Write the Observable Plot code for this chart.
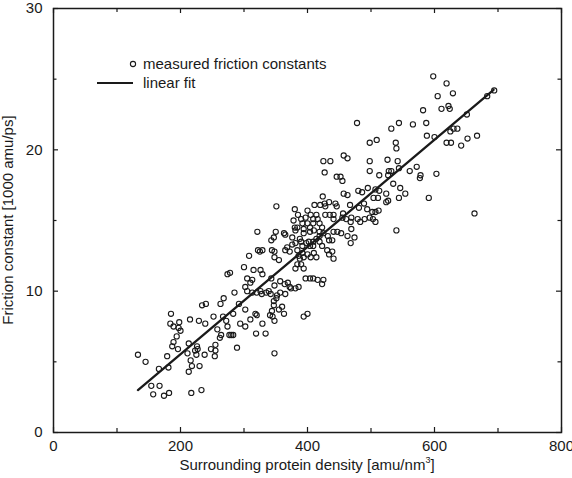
<!DOCTYPE html>
<html><head><meta charset="utf-8">
<script src="https://cdn.jsdelivr.net/npm/d3@7"></script>
<script src="https://cdn.jsdelivr.net/npm/@observablehq/plot@0.6"></script>
<style>
html,body{margin:0;padding:0;background:#fff;}
#chart{width:572px;height:478px;}
</style></head><body><div id="chart"></div>
<script>
// measured friction constants: surrounding protein density [amu/nm^3] and friction constant [1000 amu/ps]
const densities = [
133,145,154,167,157,174,182,166,179,181,185,184,189,198,197,200,194,189,187,196,
215,213,211,216,213,218,223,226,227,225,230,229,234,240,238,217,233,239,252,248,
255,255,254,258,263,264,262,268,267,274,278,272,274,277,280,283,283,285,289,292,348,
457,463,425,436,498,526,542,528,532,527,544,561,572,578,577,603,535,546,554,544,591,
524,524,527,540,321,322,329,325,308,300,315,326,329,305,313,310,302,305,313,
320,326,328,335,339,342,357,352,351,347,365,360,363,355,347,344,341,345,348,302,318,
320,310,329,302,294,319,334,394,400,
427,446,452,455,498,513,457,463,480,486,495,507,513,504,511,424,351,411,420,427,428,
434,444,446,380,400,467,481,489,494,502,507,512,498,507,503,385,390,392,397,405,409,
414,416,428,435,441,441,456,455,461,469,468,479,483,490,378,380,384,400,404,409,419,
423,350,347,363,365,381,394,394,404,410,419,425,441,447,453,463,469,474,468,343,344,
348,376,376,381,388,390,392,398,402,404,409,409,414,419,419,423,432,434,439,431,434,
439,441,365,368,372,384,386,388,392,394,400,405,410,414,348,355,384,390,394,381,397,
404,409,416,425,423,357,364,369,372,374,343,348,386,381,
478,498,509,
598,619,629,605,694,683,582,611,622,624,651,544,566,587,532,630,636,625,588,600,539,
540,619,626,642,652,667,663
];
const frictions = [
5.5,5.0,3.3,3.3,2.7,2.6,2.8,4.5,5.4,4.6,8.4,7.7,7.5,7.8,7.4,7.2,6.8,6.4,6.1,5.9,
8.0,6.3,5.6,5.1,4.3,4.7,5.8,6.1,5.9,5.5,4.7,7.9,9.0,9.1,5.5,2.8,3.0,7.7,8.2,5.9,
6.2,5.8,5.4,7.3,9.1,6.9,6.7,9.5,8.2,11.2,11.3,7.9,7.5,6.9,6.9,6.9,8.4,9.9,6.0,9.1,5.6,
19.6,19.4,19.2,19.2,19.2,19.3,19.2,18.5,18.5,18.2,18.7,18.5,18.8,18.2,18.0,18.3,17.6,17.3,16.9,16.6,16.6,
16.9,16.3,16.4,14.3,14.2,12.9,12.9,12.8,12.5,11.7,11.5,11.5,11.2,10.9,10.8,10.6,10.3,10.0,9.9,
9.9,10.0,9.8,9.9,10.0,9.8,9.9,9.7,9.5,9.3,9.8,8.9,8.4,8.7,9.0,8.6,8.3,8.2,7.9,8.7,8.4,
8.3,8.0,7.7,7.5,7.7,7.0,7.0,8.2,8.4,
18.4,18.1,18.1,17.8,18.5,18.2,16.9,16.8,17.1,17.0,17.3,17.2,17.1,16.6,16.6,16.7,16.0,16.1,16.1,16.2,16.0,
16.3,16.2,16.0,15.8,15.7,16.1,15.9,16.2,15.8,15.6,15.6,15.7,15.2,14.9,15.1,15.4,15.1,14.8,15.2,15.4,15.1,
15.4,15.1,15.4,15.4,15.4,15.1,15.5,15.2,15.1,15.2,14.9,15.1,14.9,15.1,15.0,14.5,14.5,14.8,14.5,14.8,14.8,
14.5,14.2,13.8,14.1,14.0,14.3,14.4,14.1,14.2,14.3,14.2,14.1,14.2,14.2,14.1,13.9,14.4,13.8,13.4,13.6,12.9,
12.8,13.8,13.3,13.4,13.7,13.5,13.2,13.4,13.5,13.2,13.5,13.2,13.7,13.9,13.5,13.2,13.9,13.6,13.6,12.9,12.6,
12.8,12.3,12.9,13.1,12.8,12.9,12.5,12.3,12.7,12.4,12.6,12.4,12.7,12.4,12.4,12.2,11.9,11.9,11.6,11.6,10.9,
10.9,10.9,10.8,10.8,10.5,10.7,10.5,10.6,10.3,10.2,10.9,10.4,10.3,10.2,
21.9,20.5,20.7,
25.2,24.7,24.0,23.8,24.2,23.8,22.8,22.9,23.1,22.9,22.5,21.9,21.8,21.9,21.5,21.5,21.5,21.3,21.0,20.9,20.5,
20.1,20.5,20.5,20.3,20.8,21.0,15.5
];
// linear fit end points
const fitDensity = [133, 693];
const fitFriction = [3.0, 24.25];

// axes
const xTickLabels = [0, 200, 400, 600, 800];
const xMinorTicks = [100, 300, 500, 700];
const yTickLabels = [0, 10, 20, 30];
const yMinorTicks = [5, 15, 25];
const xTitle = "Surrounding protein density [amu/nm";
const xTitleSup = "3";
const xTitleEnd = "]";
const yTitle = "Friction constant [1000 amu/ps]";
const legendLabels = ["measured friction constants", "linear fit"];

const points = densities.map((x, i) => ({x, y: frictions[i]}));
const fit = fitDensity.map((x, i) => ({x, y: fitFriction[i]}));

const W = 572, H = 478, mL = 53, mR = 11, mT = 8, mB = 46;
const innerW = W - mL - mR, innerH = H - mT - mB;
const ink = "#1a1a1a";
const font = "'Liberation Sans', Arial, Helvetica, sans-serif";

const chart = Plot.plot({
  width: W, height: H,
  marginLeft: mL, marginRight: mR, marginTop: mT, marginBottom: mB,
  x: {domain: [0, 800], label: null},
  y: {domain: [0, 30], label: null},
  style: {fontFamily: font, fontSize: "15px", color: ink, background: "#fff"},
  marks: [
    Plot.dot(points, {x: "x", y: "y", r: 2.6, stroke: ink, strokeWidth: 1.1, fill: "none"}),
    Plot.line(fit, {x: "x", y: "y", stroke: ink, strokeWidth: 2.3}),
    // inward ticks, bottom & top
    Plot.tickX(xTickLabels, {x: d => d, insetTop: innerH - 5, stroke: ink, strokeWidth: 1.2}),
    Plot.tickX(xMinorTicks, {x: d => d, insetTop: innerH - 4, stroke: ink, strokeWidth: 1.2}),
    Plot.tickX(xTickLabels, {x: d => d, insetBottom: innerH - 5, stroke: ink, strokeWidth: 1.2}),
    Plot.tickX(xMinorTicks, {x: d => d, insetBottom: innerH - 4, stroke: ink, strokeWidth: 1.2}),
    // inward ticks, left & right
    Plot.tickY(yTickLabels, {y: d => d, insetRight: innerW - 5, stroke: ink, strokeWidth: 1.2}),
    Plot.tickY(yMinorTicks, {y: d => d, insetRight: innerW - 3.5, stroke: ink, strokeWidth: 1.2}),
    Plot.tickY(yTickLabels, {y: d => d, insetLeft: innerW - 5, stroke: ink, strokeWidth: 1.2}),
    Plot.tickY(yMinorTicks, {y: d => d, insetLeft: innerW - 3.5, stroke: ink, strokeWidth: 1.2}),
    Plot.frame({stroke: ink, strokeWidth: 1.5}),
    Plot.axisX(xTickLabels, {anchor: "bottom", tickSize: 0, tickPadding: 8, label: null, fontSize: 15, fill: ink}),
    Plot.axisY(yTickLabels, {anchor: "left", tickSize: 0, tickPadding: 11, label: null, fontSize: 15, fill: ink})
  ]
});
document.getElementById("chart").appendChild(chart);

// titles and legend
const svg = d3.select(chart);
const xt = svg.append("text")
  .attr("x", (mL + W - mR) / 2).attr("y", 470)
  .attr("text-anchor", "middle")
  .attr("font-family", font).attr("font-size", 15).attr("fill", ink);
xt.append("tspan").text(xTitle);
xt.append("tspan").attr("font-size", 9).attr("dy", -7).text(xTitleSup);
xt.append("tspan").attr("dy", 7).text(xTitleEnd);

svg.append("text")
  .attr("transform", `translate(13,${(mT + H - mB) / 2}) rotate(-90)`)
  .attr("text-anchor", "middle")
  .attr("font-family", font).attr("font-size", 15).attr("fill", ink)
  .text(yTitle);

const lg = svg.append("g").attr("font-family", font).attr("font-size", 15)
  .attr("fill", ink).attr("text-anchor", "start");
lg.append("circle").attr("cx", 133).attr("cy", 64).attr("r", 2.6)
  .attr("fill", "none").attr("stroke", ink).attr("stroke-width", 1.1);
lg.append("text").attr("x", 143).attr("y", 69).attr("text-anchor", "start").text(legendLabels[0]);
lg.append("line").attr("x1", 97).attr("x2", 133).attr("y1", 83).attr("y2", 83)
  .attr("stroke", ink).attr("stroke-width", 1.8);
lg.append("text").attr("x", 143).attr("y", 88).attr("text-anchor", "start").text(legendLabels[1]);
</script>
</body></html>
